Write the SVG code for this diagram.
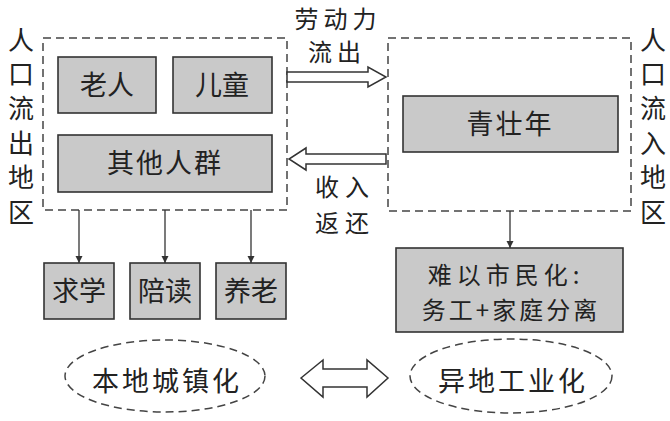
<svg xmlns="http://www.w3.org/2000/svg" width="670" height="421" viewBox="0 0 670 421">
<style>
text{font-family:"Noto Sans CJK SC","Noto Sans CJK JP",sans-serif;fill:#222;text-anchor:middle}
.box{fill:#c9c9c9;stroke:#333;stroke-width:1.6}
.dash{fill:none;stroke:#444;stroke-width:1.5;stroke-dasharray:8 5}
.hollow{fill:#fff;stroke:#333;stroke-width:1.5;stroke-linejoin:miter}
.line{stroke:#333;stroke-width:1.3;fill:none}
.t{font-size:27px}
.t2{font-size:24px}
.v{font-size:26px}
.lb{font-size:24px}
</style>
<defs>
<marker id="ah" viewBox="0 0 10 10" refX="10" refY="5" markerWidth="7" markerHeight="9" markerUnits="userSpaceOnUse" orient="auto">
<path d="M0,0 L10,5 L0,10 Z" fill="#333"/>
</marker>
</defs>
<rect width="670" height="421" fill="#fff"/>

<g id="outflow-region">
<rect class="dash" x="43" y="38" width="244" height="172"/>
<text class="v" x="21" y="50">人</text>
<text class="v" x="21" y="84">口</text>
<text class="v" x="21" y="118">流</text>
<text class="v" x="21" y="153">出</text>
<text class="v" x="21" y="187">地</text>
<text class="v" x="21" y="222">区</text>
</g>
<g id="laoren"><rect class="box" x="58" y="57" width="98" height="56"/><text class="t" x="107" y="95">老人</text></g>
<g id="ertong"><rect class="box" x="173" y="57" width="99" height="56"/><text class="t" x="222" y="95">儿童</text></g>
<g id="qita"><rect class="box" x="58" y="135" width="214" height="57"/><text class="t" x="165" y="173" letter-spacing="2">其他人群</text></g>

<g id="inflow-region">
<rect class="dash" x="388" y="38" width="243" height="173"/>
<text class="v" x="653" y="50">人</text>
<text class="v" x="653" y="84">口</text>
<text class="v" x="653" y="118">流</text>
<text class="v" x="653" y="153">入</text>
<text class="v" x="653" y="187">地</text>
<text class="v" x="653" y="222">区</text>
</g>
<g id="qingzhuangnian"><rect class="box" x="403" y="96" width="215" height="56"/><text class="t" x="510" y="134" letter-spacing="2">青壮年</text></g>

<g id="qiuxue"><rect class="box" x="44" y="263" width="70" height="56"/><text class="t" x="79" y="301">求学</text></g>
<g id="peidu"><rect class="box" x="130" y="263" width="70" height="56"/><text class="t" x="165" y="301">陪读</text></g>
<g id="yanglao"><rect class="box" x="216" y="263" width="70" height="56"/><text class="t" x="251" y="301">养老</text></g>

<g id="nanyi"><rect class="box" x="396" y="248" width="227" height="84"/>
<text class="t2" x="506" y="284" letter-spacing="5">难以市民化:</text>
<text class="t2" x="511" y="319" letter-spacing="3">务工+家庭分离</text></g>

<g id="bendi"><ellipse class="dash" cx="165" cy="376" rx="100" ry="36" stroke-dasharray="9 5"/><text class="t" x="167" y="391" letter-spacing="3">本地城镇化</text></g>
<g id="yidi"><ellipse class="dash" cx="511" cy="376" rx="101" ry="37" stroke-dasharray="9 5"/><text class="t" x="513" y="391" letter-spacing="3">异地工业化</text></g>

<g id="labels">
<text class="lb" x="338" y="28" letter-spacing="5">劳动力</text>
<text class="lb" x="337" y="61" letter-spacing="5">流出</text>
<text class="lb" x="345" y="196" letter-spacing="6">收入</text>
<text class="lb" x="345" y="232" letter-spacing="6">返还</text>
</g>

<g id="connectors">
<path class="hollow" d="M287,72 L368,72 L368,67 L386,77 L368,87 L368,82 L287,82 Z"/>
<path class="hollow" d="M386,154 L306,154 L306,148 L289,159 L306,170 L306,164 L386,164 Z"/>
<path class="hollow" d="M301,378 L323,360 L323,369 L367,369 L367,360 L388,378 L367,397 L367,387 L323,387 L323,397 Z"/>
<line class="line" x1="79" y1="210" x2="79" y2="263" marker-end="url(#ah)"/>
<line class="line" x1="165" y1="210" x2="165" y2="263" marker-end="url(#ah)"/>
<line class="line" x1="251" y1="210" x2="251" y2="263" marker-end="url(#ah)"/>
<line class="line" x1="510" y1="211" x2="510" y2="248" marker-end="url(#ah)"/>
</g>
</svg>
